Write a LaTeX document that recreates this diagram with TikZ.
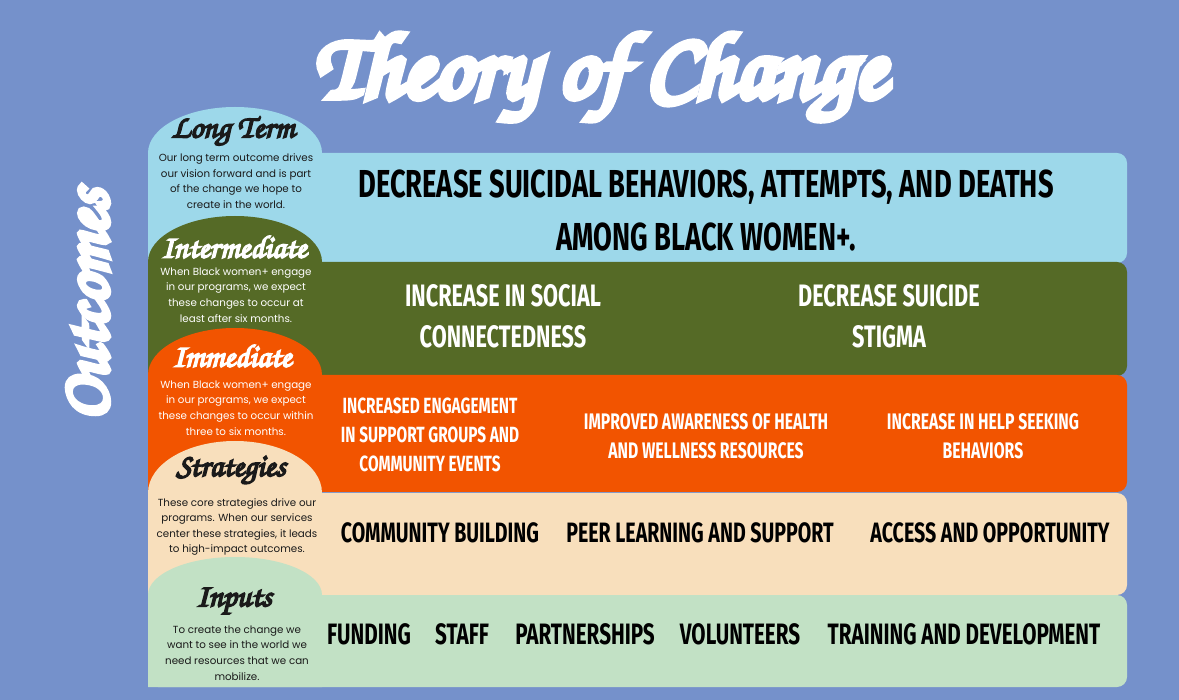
\documentclass[tikz,border=0pt]{standalone}
\usepackage{fontspec}
\usepackage{tikz}
\newfontfamily\headfont[FakeStretch=0.7]{Fira Sans}
\newfontfamily\bodyfont{Poppins}
\newfontfamily\swashfont[FakeBold=5]{texgyrechorus-mediumitalic.otf}
\newfontfamily\titlefont[FakeBold=8]{texgyrechorus-mediumitalic.otf}
\definecolor{pagebg}{HTML}{7591CB}
\definecolor{skyband}{HTML}{9DD8EA}
\definecolor{oliveband}{HTML}{556A26}
\definecolor{orangeband}{HTML}{F25400}
\definecolor{sandband}{HTML}{F8DFBC}
\definecolor{mintband}{HTML}{C2E1C5}
\definecolor{inktext}{HTML}{1A1A1A}

\begin{document}
\begin{tikzpicture}[x=1pt,y=-1pt]
    \tikzstyle{tabtitle}=[font=\swashfont\fontsize{32}{32}\selectfont, inner sep=0pt]
    \tikzstyle{tabtext}=[font=\bodyfont\fontsize{10.3}{15.6}\selectfont, align=center, inner sep=0pt]
    \tikzstyle{bandtext}=[align=center, inner sep=0pt]

    \fill[pagebg] (0,0) rectangle (1179,700);
    \useasboundingbox (0,0) rectangle (1179,700);

    % long term
    \fill[skyband, rounded corners=10pt] (148,153) rectangle (1127,263);
    \fill[skyband] (148,263) -- (148,153) arc[start angle=180, end angle=360, x radius=87, y radius=46] -- (322,263) -- cycle;
    % intermediate
    \fill[oliveband, rounded corners=10pt] (148,262) rectangle (1127,376);
    \fill[oliveband] (148,376) -- (148,262) arc[start angle=180, end angle=360, x radius=87, y radius=46] -- (322,376) -- cycle;
    % immediate
    \fill[orangeband, rounded corners=10pt] (148,375) rectangle (1127,492);
    \fill[orangeband] (148,492) -- (148,375) arc[start angle=180, end angle=360, x radius=87, y radius=47] -- (322,492) -- cycle;
    % strategies
    \fill[sandband, rounded corners=10pt] (148,493) rectangle (1127,595);
    \fill[sandband] (148,595) -- (148,493) arc[start angle=180, end angle=360, x radius=87, y radius=52] -- (322,595) -- cycle;
    % inputs
    \fill[mintband, rounded corners=10pt] (148,595) rectangle (1127,687);
    \fill[mintband] (148,687) -- (148,595) arc[start angle=180, end angle=360, x radius=87, y radius=38] -- (322,687) -- cycle;

    \node[font=\titlefont\fontsize{93}{93}\selectfont, text=white] (title) at (600,77) {Theory of Change};
    \node[font=\titlefont\fontsize{68}{68}\selectfont, text=white, rotate=90] (outcomes) at (88,305) {Outcomes};

    \node[tabtitle, text=inktext] (longtitle) at (233,131) {Long Term};
    \node[tabtext, text=inktext] (longtext) at (236,181) {Our long term outcome drives\\our vision forward and is part\\of the change we hope to\\create in the world.};

    \node[tabtitle, text=white] (midtitle) at (234,247) {Intermediate};
    \node[tabtext, text=white] (midtext) at (236,295) {When Black women+ engage\\in our programs, we expect\\these changes to occur at\\least after six months.};

    \node[tabtitle, text=white] (nowtitle) at (232,356) {Immediate};
    \node[tabtext, text=white] (nowtext) at (236,408) {When Black women+ engage\\in our programs, we expect\\these changes to occur within\\three to six months.};

    \node[tabtitle, text=inktext] (stratitle) at (231,470) {Strategies};
    \node[tabtext, text=inktext] (stratext) at (237,527) {These core strategies drive our\\programs. When our services\\center these strategies, it leads\\to high-impact outcomes.};

    \node[tabtitle, text=inktext] (inputitle) at (234,601) {Inputs};
    \node[tabtext, text=inktext] (inputext) at (237,653) {To create the change we\\want to see in the world we\\need resources that we can\\mobilize.};

    \node[bandtext, text=black, font=\headfont\bfseries\fontsize{39}{53}\selectfont] (goal) at (706,210)
    {DECREASE SUICIDAL BEHAVIORS, ATTEMPTS, AND DEATHS\\AMONG BLACK WOMEN+.};

    \node[bandtext, text=white, font=\headfont\bfseries\fontsize{31}{41}\selectfont] (social) at (503,316)
    {INCREASE IN SOCIAL\\CONNECTEDNESS};
    \node[bandtext, text=white, font=\headfont\bfseries\fontsize{31}{41}\selectfont] (stigma) at (889,316)
    {DECREASE SUICIDE\\STIGMA};

    \node[bandtext, text=white, font=\headfont\bfseries\fontsize{22}{29}\selectfont] (engage) at (430,435)
    {INCREASED ENGAGEMENT\\IN SUPPORT GROUPS AND\\COMMUNITY EVENTS};
    \node[bandtext, text=white, font=\headfont\bfseries\fontsize{22.5}{29}\selectfont] (aware) at (706,436)
    {IMPROVED AWARENESS OF HEALTH\\AND WELLNESS RESOURCES};
    \node[bandtext, text=white, font=\headfont\bfseries\fontsize{22.5}{29}\selectfont] (help) at (983,436)
    {INCREASE IN HELP SEEKING\\BEHAVIORS};

    \node[bandtext, text=black, font=\headfont\bfseries\fontsize{28}{28}\selectfont] (building) at (440,533) {COMMUNITY BUILDING};
    \node[bandtext, text=black, font=\headfont\bfseries\fontsize{28}{28}\selectfont] (peer) at (700,533) {PEER LEARNING AND SUPPORT};
    \node[bandtext, text=black, font=\headfont\bfseries\fontsize{28}{28}\selectfont] (access) at (990,533) {ACCESS AND OPPORTUNITY};

    \node[bandtext, text=black, font=\headfont\bfseries\fontsize{29.5}{29.5}\selectfont] (funding) at (369,634) {FUNDING};
    \node[bandtext, text=black, font=\headfont\bfseries\fontsize{29.5}{29.5}\selectfont] (staff) at (462,634) {STAFF};
    \node[bandtext, text=black, font=\headfont\bfseries\fontsize{29.5}{29.5}\selectfont] (partners) at (585,634) {PARTNERSHIPS};
    \node[bandtext, text=black, font=\headfont\bfseries\fontsize{29.5}{29.5}\selectfont] (volunteers) at (740,634) {VOLUNTEERS};
    \node[bandtext, text=black, font=\headfont\bfseries\fontsize{29.5}{29.5}\selectfont] (training) at (964,634) {TRAINING AND DEVELOPMENT};
\end{tikzpicture}
\end{document}
